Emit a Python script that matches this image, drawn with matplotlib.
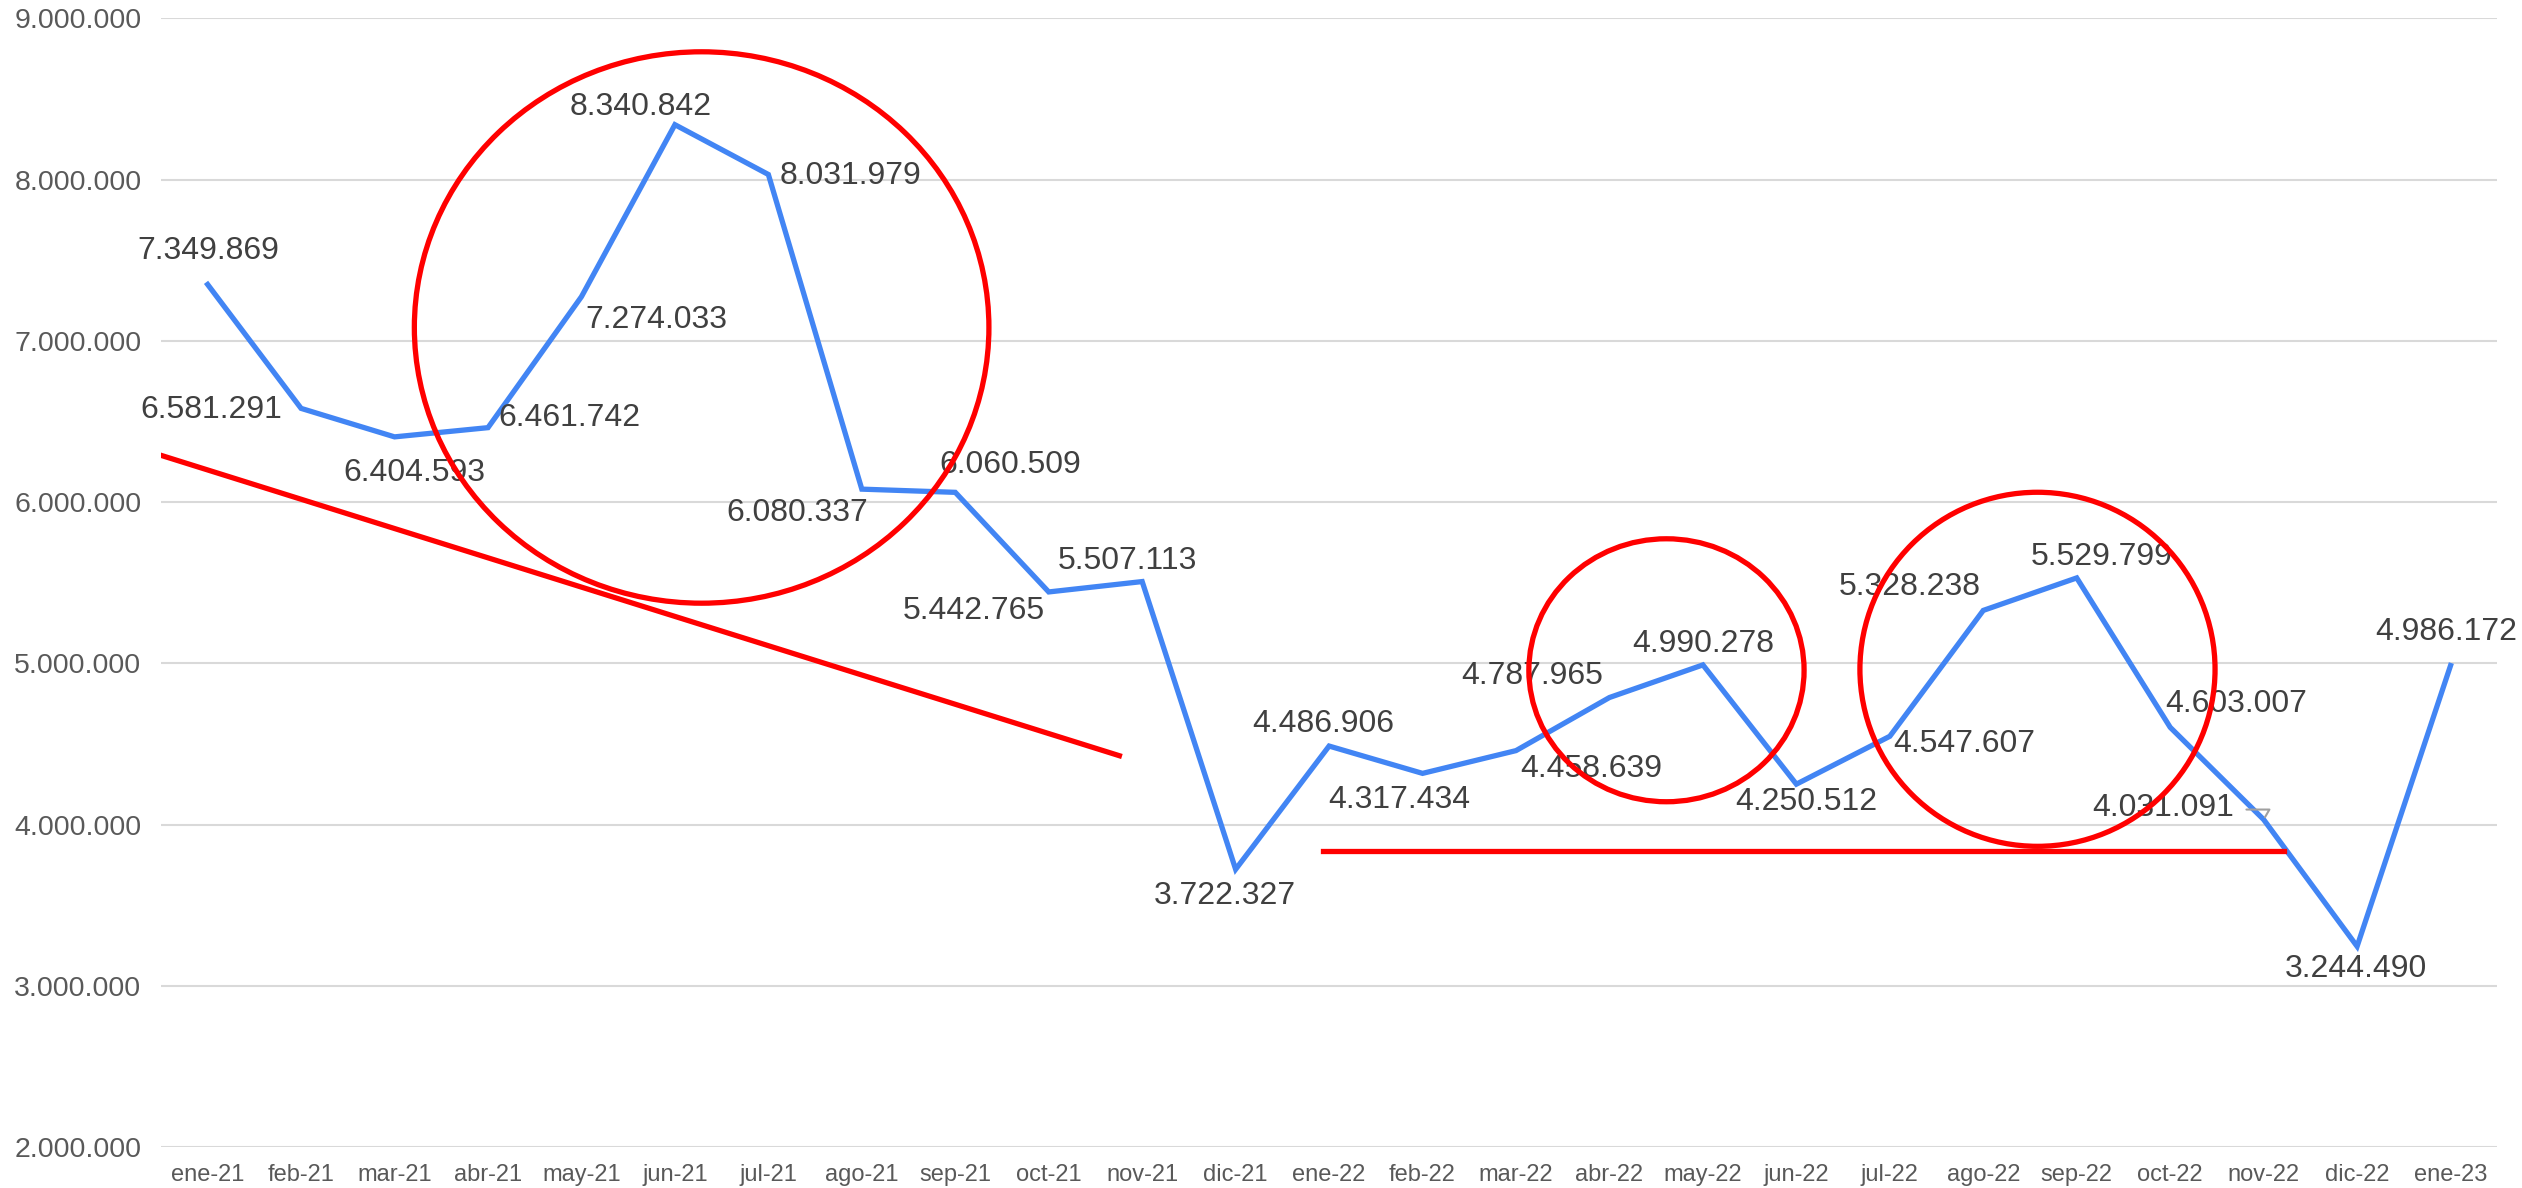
import matplotlib
import matplotlib.pyplot as plt
from matplotlib.patches import Ellipse
from matplotlib.ticker import FuncFormatter

matplotlib.use('Agg')

# Datos
meses = ['ene-21', 'feb-21', 'mar-21', 'abr-21', 'may-21', 'jun-21', 'jul-21',
         'ago-21', 'sep-21', 'oct-21', 'nov-21', 'dic-21', 'ene-22', 'feb-22',
         'mar-22', 'abr-22', 'may-22', 'jun-22', 'jul-22', 'ago-22', 'sep-22',
         'oct-22', 'nov-22', 'dic-22', 'ene-23']
valores = [7349869, 6581291, 6404593, 6461742, 7274033, 8340842, 8031979,
           6080337, 6060509, 5442765, 5507113, 3722327, 4486906, 4317434,
           4458639, 4787965, 4990278, 4250512, 4547607, 5328238, 5529799,
           4603007, 4031091, 3244490, 4986172]

# posición de cada etiqueta respecto al punto (px, alineación horizontal)
etiq_dx = [1, -19, 20, 10, 4, -34, 11, -65, 55, -4, -15, -11, -6, -23,
           4, -6, 0, 10, 3, -74, 25, -5, -30, -1, -4]
etiq_dy = [33, -2, -36, 10, -23, 18, -2, -24, 27, -19, 21, -27, 22, -27,
           -18, 22, 21, -18, -8, 23, 21, 23, 12, -23, 34]
etiq_ha = ['center', 'right', 'center', 'left', 'left', 'center', 'left',
           'center', 'center', 'right', 'center', 'center', 'center', 'center',
           'left', 'right', 'center', 'center', 'left', 'center', 'center',
           'left', 'right', 'center', 'center']

# anotaciones en rojo (índice de mes, valor)
tendencia1_x = [-0.625, 9.756]
tendencia1_y = [6313000, 4427000]
tendencia2_x = [11.93, 22.22]
tendencia2_y = [3834000, 3834000]
circulos = [  # (x, y, ancho, alto)
    (5.286, 7083000, 6.148, 3420000),
    (15.61, 4957000, 2.945, 1631000),
    (19.58, 4963000, 3.80, 2196000),
]

plt.rcParams['font.family'] = ['Liberation Sans', 'DejaVu Sans']

fig = plt.figure(figsize=(25.22, 11.88), dpi=100)
ax = fig.add_axes([0.0638, 0.0345, 0.9264, 0.95])

x = list(range(len(meses)))
ax.plot(x, valores, color='#4285F4', linewidth=3.8, solid_joinstyle='miter',
        zorder=3)


def miles(v, pos=None):
    return f'{int(round(v)):,}'.replace(',', '.')


for i, v in enumerate(valores):
    ax.annotate(miles(v), (i, v), xytext=(etiq_dx[i], etiq_dy[i]),
                textcoords='offset pixels', ha=etiq_ha[i], va='center',
                fontsize=23, color='#404040', zorder=4)

# pequeña línea guía de la etiqueta de nov-22
ax.annotate('', (22, valores[22]), xytext=(-20, 10), textcoords='offset pixels',
            arrowprops=dict(arrowstyle='-', color='#a0a0a0', lw=1.5,
                            connectionstyle='angle,angleA=0,angleB=60,rad=0'))

ax.plot(tendencia1_x, tendencia1_y, color='#ff0000', linewidth=3.8, zorder=5)
ax.plot(tendencia2_x, tendencia2_y, color='#ff0000', linewidth=3.8, zorder=5)
for cx, cy, w, h in circulos:
    ax.add_patch(Ellipse((cx, cy), w, h, fill=False, edgecolor='#ff0000',
                         linewidth=3.8, zorder=5))

ax.set_xlim(-0.5, 24.5)
ax.set_ylim(2000000, 9000000)
ax.set_yticks(range(2000000, 9000001, 1000000))
ax.yaxis.set_major_formatter(FuncFormatter(miles))
ax.set_xticks(x)
ax.set_xticklabels(meses)
ax.tick_params(axis='y', length=0, pad=14, labelsize=20.5, labelcolor='#595959')
ax.tick_params(axis='x', length=0, pad=12, labelsize=17, labelcolor='#595959')
ax.grid(axis='y', color='#d9d9d9', linewidth=1.5)
ax.set_axisbelow(True)
for s in ax.spines.values():
    s.set_visible(False)

fig.savefig('out.png', dpi=100)
plt.close(fig)
